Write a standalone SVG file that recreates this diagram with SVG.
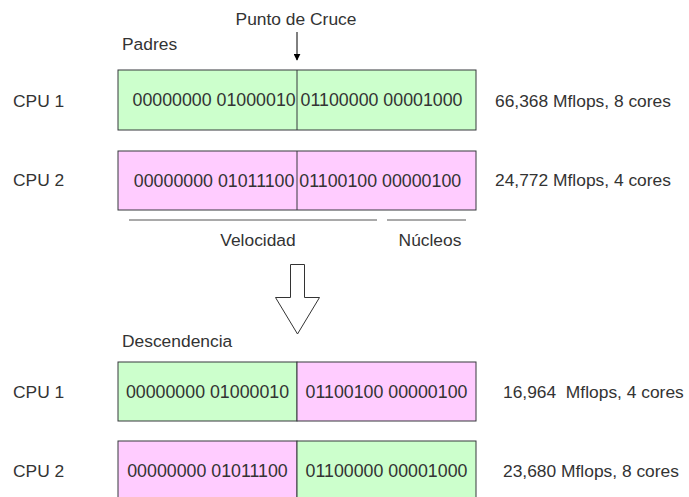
<svg xmlns="http://www.w3.org/2000/svg" width="689" height="497" viewBox="0 0 689 497">
<style>
text{font-family:"Liberation Sans",Arial,sans-serif;font-size:17.4px;fill:#333333;dominant-baseline:central}
.bt{font-size:17.8px}
.g{fill:#ccffcc;stroke:#36393d;stroke-width:1}
.p{fill:#ffccff;stroke:#36393d;stroke-width:1}
.div{stroke:#36393d;stroke-width:1}
.rule{stroke:#555555;stroke-width:1}
.c{text-anchor:middle}
</style>
<defs>
<marker id="ah" viewBox="0 0 10 10" refX="9" refY="5" markerWidth="7" markerHeight="7" markerUnits="userSpaceOnUse" orient="auto">
<path d="M0,0 L10,5 L0,10 z" fill="#000"/>
</marker>
</defs>
<rect width="689" height="497" fill="#ffffff"/>
<g id="labels">
<text x="296" y="19" class="c">Punto de Cruce</text>
<text x="122" y="44">Padres</text>
<text x="122" y="341">Descendencia</text>
</g>
<g id="parent1">
<text x="13" y="101">CPU 1</text>
<rect class="g" x="118" y="70" width="358" height="60"/>
<line class="div" x1="297" y1="70" x2="297" y2="130"/>
<text x="297.5" y="100" class="c bt">00000000 01000010 01100000 00001000</text>
<text x="495" y="101">66,368 Mflops, 8 cores</text>
</g>
<g id="parent2">
<text x="13" y="180">CPU 2</text>
<rect class="p" x="118" y="151" width="358" height="59"/>
<line class="div" x1="297" y1="151" x2="297" y2="210"/>
<text x="297.5" y="180.5" class="c bt">00000000 01011100 01100100 00000100</text>
<text x="495" y="180">24,772 Mflops, 4 cores</text>
</g>
<g id="ranges">
<line class="rule" x1="129" y1="220" x2="377" y2="220"/>
<line class="rule" x1="387" y1="220" x2="466" y2="220"/>
<text x="258" y="240" class="c">Velocidad</text>
<text x="430" y="240" class="c">Núcleos</text>
</g>
<g id="child1">
<text x="13" y="392">CPU 1</text>
<rect class="g" x="118" y="362" width="179" height="59"/>
<rect class="p" x="297" y="362" width="179" height="59"/>
<text x="207.5" y="391.5" class="c bt">00000000 01000010</text>
<text x="386.5" y="391.5" class="c bt">01100100 00000100</text>
<text x="503" y="392" xml:space="preserve">16,964  Mflops, 4 cores</text>
</g>
<g id="child2">
<text x="13" y="471">CPU 2</text>
<rect class="p" x="118" y="441" width="179" height="60"/>
<rect class="g" x="297" y="441" width="179" height="60"/>
<text x="207.5" y="471" class="c bt">00000000 01011100</text>
<text x="386.5" y="471" class="c bt">01100000 00001000</text>
<text x="503" y="471">23,680 Mflops, 8 cores</text>
</g>
<g id="connectors">
<line x1="297" y1="32" x2="297" y2="60" stroke="#000" stroke-width="1" marker-end="url(#ah)"/>
<path d="M290.5,264.5 H304.5 V297.5 H319.5 L297.5,334 L275.5,297.5 H290.5 Z" fill="#ffffff" stroke="#333333" stroke-width="1"/>
</g>
</svg>
